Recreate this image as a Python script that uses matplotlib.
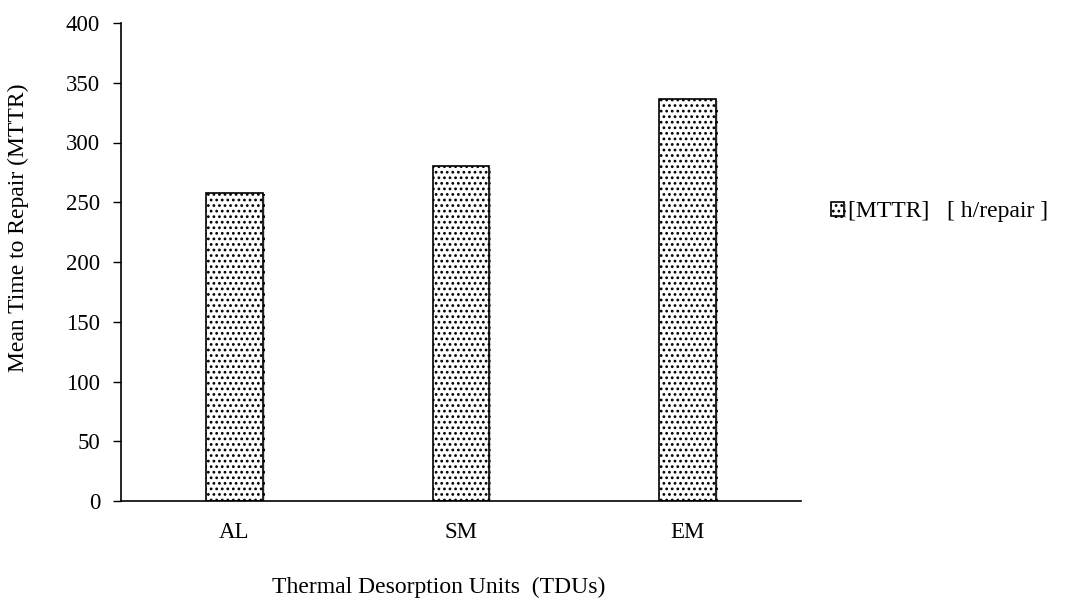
import matplotlib
matplotlib.use("Agg")
import matplotlib.pyplot as plt
import matplotlib.patheffects as pe

categories = ["AL", "SM", "EM"]
mttr = [258, 280, 336]
series_label = "[MTTR]   [ h/repair ]"
yticks = [0, 50, 100, 150, 200, 250, 300, 350, 400]

plt.rcParams['font.family'] = ['Liberation Serif', 'DejaVu Serif']
plt.rcParams['hatch.linewidth'] = 1.2

fig = plt.figure(figsize=(10.7, 6.0), dpi=100)
ax = fig.add_axes([121/1070, 1-501/600, 680/1070, 478/600])

x = list(range(len(categories)))
bars = ax.bar(x, mttr, width=0.25, color='white', edgecolor='black',
              linewidth=1.2, hatch='...', label=series_label)
for b in bars:
    b.set_path_effects([pe.SimplePatchShadow(offset=(1.5, -1.0), shadow_rgbFace='gray', alpha=0.3),
                        pe.Normal()])

ax.set_xlim(-0.5, 2.5)
ax.set_ylim(0, 400)
ax.set_yticks(yticks)
ax.set_xticks(x)
ax.set_xticklabels(categories)
ax.tick_params(axis='x', length=0, pad=15, labelsize=16.5)
ax.tick_params(axis='y', length=6, width=1, pad=9, labelsize=16.5)
for s in ['top', 'right']:
    ax.spines[s].set_visible(False)
ax.spines['left'].set_linewidth(1.2)
ax.spines['bottom'].set_linewidth(1.2)

fig.text(18/1070, 1-228/600, "Mean Time to Repair (MTTR)", rotation=90,
         ha='center', va='center', fontsize=17)
fig.text(439/1070, 1-587/600, "Thermal Desorption Units  (TDUs)",
         ha='center', va='center', fontsize=17)

fig.legend(handles=[bars], labels=[series_label], loc='center left',
           bbox_to_anchor=(810/1070, 1-212/600), frameon=False, fontsize=17,
           handlelength=0.55, handleheight=0.55, handletextpad=0.15)

fig.savefig("out.png", dpi=100)
